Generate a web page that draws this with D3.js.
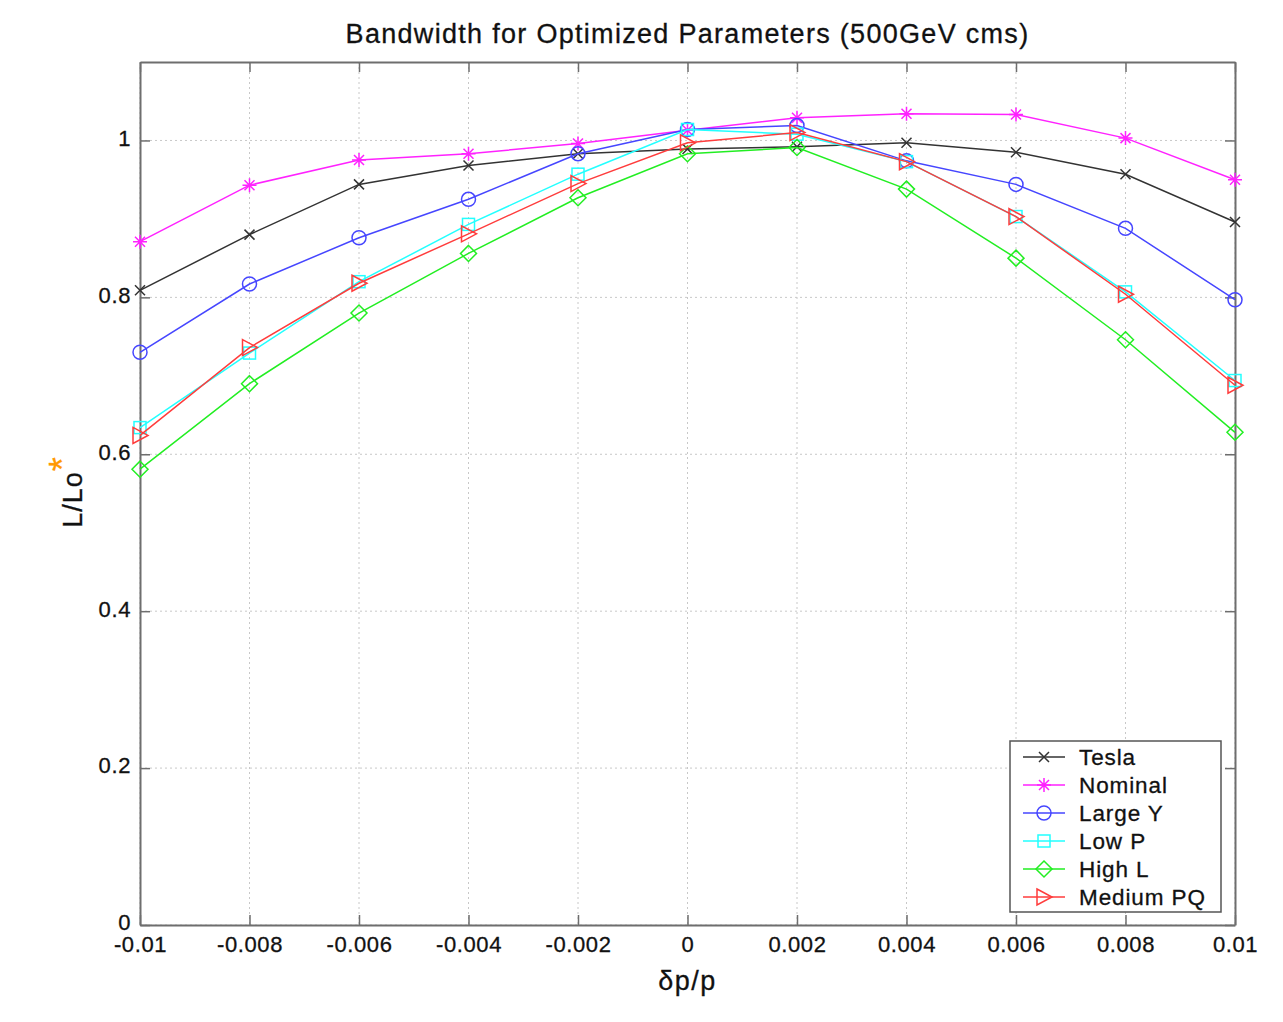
<!DOCTYPE html>
<html>
<head>
<meta charset="utf-8">
<script src="https://cdn.jsdelivr.net/npm/d3@7"></script>
<style>
  html, body { margin: 0; padding: 0; background: #fff; }
  svg { display: block; font-family: "Liberation Sans", Arial, sans-serif; }
</style>
</head>
<body>
<svg id="chart" width="1283" height="1022"></svg>
<script>
// Momentum offsets (δp/p)
const dp = [-0.01, -0.008, -0.006, -0.004, -0.002, 0, 0.002, 0.004, 0.006, 0.008, 0.01];

// Relative luminosity L/Lo* for each parameter set
const tesla     = [0.809, 0.880, 0.944, 0.968, 0.983, 0.989, 0.992, 0.997, 0.985, 0.957, 0.896];
const nominal   = [0.871, 0.943, 0.975, 0.983, 0.996, 1.013, 1.029, 1.034, 1.033, 1.003, 0.950];
const largeY    = [0.730, 0.817, 0.876, 0.925, 0.983, 1.014, 1.019, 0.974, 0.944, 0.888, 0.797];
const lowP      = [0.634, 0.729, 0.820, 0.893, 0.957, 1.014, 1.008, 0.973, 0.903, 0.807, 0.694];
const highL     = [0.581, 0.690, 0.780, 0.856, 0.927, 0.983, 0.991, 0.938, 0.850, 0.746, 0.628];
const mediumPQ  = [0.624, 0.736, 0.818, 0.881, 0.945, 0.997, 1.010, 0.973, 0.903, 0.804, 0.688];

const seriesNames = ["Tesla", "Nominal", "Large Y", "Low P", "High L", "Medium PQ"];
const seriesValues = [tesla, nominal, largeY, lowP, highL, mediumPQ];
const seriesColors = ["#333333", "#ff22ff", "#4646ff", "#22ffff", "#22ee22", "#ff3c3c"];
const seriesMarkers = ["x", "star", "circle", "square", "diamond", "triangle"];

const xTicks = [-0.01, -0.008, -0.006, -0.004, -0.002, 0, 0.002, 0.004, 0.006, 0.008, 0.01];
const xTickLabels = ["-0.01", "-0.008", "-0.006", "-0.004", "-0.002", "0", "0.002", "0.004", "0.006", "0.008", "0.01"];
const yTicks = [0, 0.2, 0.4, 0.6, 0.8, 1];
const yTickLabels = ["0", "0.2", "0.4", "0.6", "0.8", "1"];

const svg = d3.select("#chart");
const pLeft = 140, pRight = 1235, pTop = 62, pBottom = 925;

const x = d3.scaleLinear().domain([-0.01, 0.01]).range([pLeft, pRight]);
const y = d3.scaleLinear().domain([0, 1.1]).range([pBottom, pTop]);

// Dotted grid
const grid = svg.append("g");
grid.selectAll("line.vx").data(xTicks).join("line")
  .attr("x1", d => x(d)).attr("x2", d => x(d))
  .attr("y1", pTop).attr("y2", pBottom)
  .attr("stroke", "#c8c8c8").attr("stroke-width", 1).attr("stroke-dasharray", "2,3");
grid.selectAll("line.hy").data(yTicks).join("line")
  .attr("x1", pLeft).attr("x2", pRight)
  .attr("y1", d => y(d)).attr("y2", d => y(d))
  .attr("stroke", "#c8c8c8").attr("stroke-width", 1).attr("stroke-dasharray", "2,3");

// Axes with inward ticks on all four sides
const axisColor = "#6e6e6e";
const tickLen = 10;
const fmtX = (d, i) => xTickLabels[i];
const fmtY = (d, i) => yTickLabels[i];

const gB = svg.append("g").attr("transform", `translate(0,${pBottom})`)
  .call(d3.axisBottom(x).tickValues(xTicks).tickFormat(fmtX).tickSizeInner(-tickLen).tickSizeOuter(0).tickPadding(12));
const gT = svg.append("g").attr("transform", `translate(0,${pTop})`)
  .call(d3.axisTop(x).tickValues(xTicks).tickFormat("").tickSizeInner(-tickLen).tickSizeOuter(0));
const gL = svg.append("g").attr("transform", `translate(${pLeft},0)`)
  .call(d3.axisLeft(y).tickValues(yTicks).tickFormat(fmtY).tickSizeInner(-tickLen).tickSizeOuter(0).tickPadding(9));
const gR = svg.append("g").attr("transform", `translate(${pRight},0)`)
  .call(d3.axisRight(y).tickValues(yTicks).tickFormat("").tickSizeInner(-tickLen).tickSizeOuter(0));

[gB, gT, gL, gR].forEach(g => {
  g.select(".domain").attr("stroke", axisColor).attr("stroke-width", 2);
  g.selectAll(".tick line").attr("stroke", axisColor).attr("stroke-width", 1.5);
  g.selectAll(".tick text").attr("fill", "#111").style("font-size", "22px")
    .style("letter-spacing", "0.6px")
    .attr("stroke", "#111").attr("stroke-width", 0.3)
    .style("font-family", "'Liberation Sans', Arial, sans-serif");
});
gB.selectAll(".tick text").attr("dy", "0.66em");
gL.selectAll(".tick text").attr("dy", "0.22em");

// Marker drawing helper
function drawMarker(g, type, cx, cy, color) {
  const s = 7;
  if (type === "x") {
    g.append("path").attr("d", `M${cx - 5},${cy - 5}L${cx + 5},${cy + 5}M${cx - 5},${cy + 5}L${cx + 5},${cy - 5}`)
      .attr("stroke", color).attr("stroke-width", 1.5).attr("fill", "none");
  } else if (type === "star") {
    g.append("path").attr("d",
      `M${cx - 5},${cy - 5}L${cx + 5},${cy + 5}M${cx - 5},${cy + 5}L${cx + 5},${cy - 5}M${cx - 7},${cy}L${cx + 7},${cy}M${cx},${cy - 7}L${cx},${cy + 7}`)
      .attr("stroke", color).attr("stroke-width", 1.5).attr("fill", "none");
  } else if (type === "circle") {
    g.append("circle").attr("cx", cx).attr("cy", cy).attr("r", s)
      .attr("stroke", color).attr("stroke-width", 1.5).attr("fill", "none");
  } else if (type === "square") {
    g.append("rect").attr("x", cx - 6).attr("y", cy - 6).attr("width", 12).attr("height", 12)
      .attr("stroke", color).attr("stroke-width", 1.5).attr("fill", "none");
  } else if (type === "diamond") {
    g.append("path").attr("d", `M${cx},${cy - 8}L${cx + 8},${cy}L${cx},${cy + 8}L${cx - 8},${cy}Z`)
      .attr("stroke", color).attr("stroke-width", 1.5).attr("fill", "none");
  } else if (type === "triangle") {
    g.append("path").attr("d", `M${cx - 7},${cy - 8}L${cx + 8},${cy}L${cx - 7},${cy + 8}Z`)
      .attr("stroke", color).attr("stroke-width", 1.5).attr("fill", "none");
  }
}

// Series lines and markers
const line = d3.line().x((d, i) => x(dp[i])).y(d => y(d));
const plot = svg.append("g");
seriesValues.forEach((vals, k) => {
  const g = plot.append("g");
  g.append("path").datum(vals).attr("d", line)
    .attr("fill", "none").attr("stroke", seriesColors[k]).attr("stroke-width", 1.5);
  vals.forEach((v, i) => drawMarker(g, seriesMarkers[k], x(dp[i]), y(v), seriesColors[k]));
});

// Legend
const lgX = 1010, lgY = 741, lgW = 211, lgH = 171, rowH = 28;
const lg = svg.append("g");
lg.append("rect").attr("x", lgX).attr("y", lgY).attr("width", lgW).attr("height", lgH)
  .attr("fill", "#fff").attr("stroke", "#555").attr("stroke-width", 1.5);
seriesNames.forEach((name, k) => {
  const cy = lgY + 16 + k * rowH;
  lg.append("line").attr("x1", lgX + 13).attr("x2", lgX + 55).attr("y1", cy).attr("y2", cy)
    .attr("stroke", seriesColors[k]).attr("stroke-width", 1.5);
  drawMarker(lg, seriesMarkers[k], lgX + 34, cy, seriesColors[k]);
  lg.append("text").attr("x", lgX + 69).attr("y", cy).attr("dy", "0.35em")
    .style("font-size", "22.5px").style("letter-spacing", "0.9px")
    .attr("stroke", "#111").attr("stroke-width", 0.3).attr("fill", "#111").text(name);
});

// Title
svg.append("text").attr("x", (pLeft + pRight) / 2).attr("y", 43).attr("text-anchor", "middle")
  .style("font-size", "27px").style("letter-spacing", "1.3px").attr("fill", "#111")
  .attr("stroke", "#111").attr("stroke-width", 0.3)
  .text("Bandwidth for Optimized Parameters (500GeV cms)");

// X label
svg.append("text").attr("x", (pLeft + pRight) / 2).attr("y", 990).attr("text-anchor", "middle")
  .style("font-size", "27px").style("letter-spacing", "1.5px").attr("fill", "#111")
  .attr("stroke", "#111").attr("stroke-width", 0.3).text("δp/p");

// Y label with orange superscript asterisk
const yl = svg.append("text").attr("transform", "translate(82,492) rotate(-90)")
  .attr("text-anchor", "middle").style("font-size", "27px").style("letter-spacing", "1px")
  .attr("fill", "#111").attr("stroke", "#111").attr("stroke-width", 0.3);
yl.append("tspan").text("L/Lo");
yl.append("tspan").attr("fill", "#ff9900").attr("stroke", "#ff9900").attr("dy", "-0.2em").attr("dx", "0")
  .style("font-size", "36px").text("*");
</script>
</body>
</html>
